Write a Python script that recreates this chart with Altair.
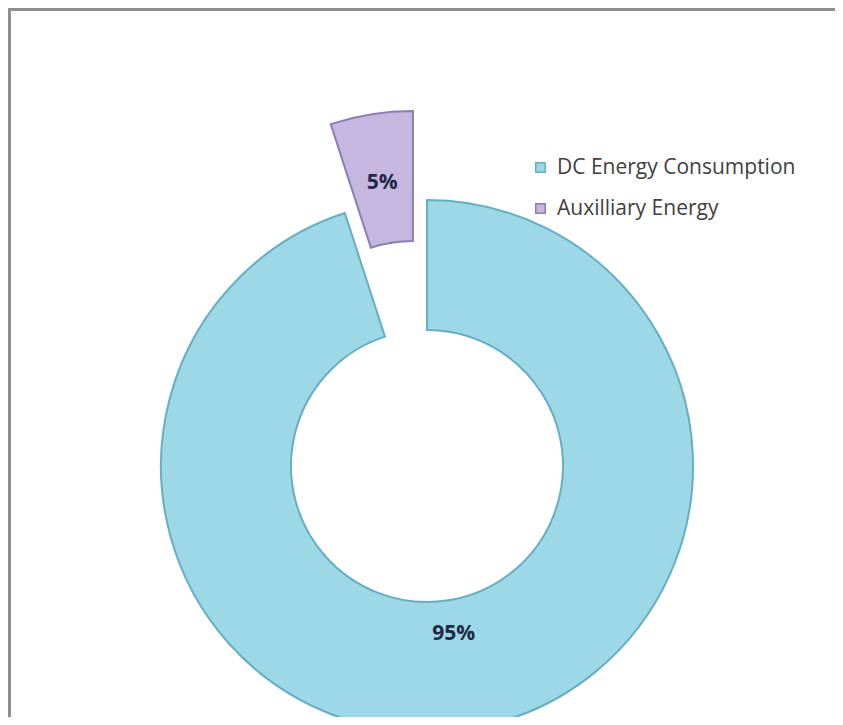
import altair as alt
import pandas as pd

# ---- data ----
categories = ["DC Energy Consumption", "Auxilliary Energy"]
values = [95, 5]
label_texts = ["95%", "5%"]
fill_colors = ["#9DD8E7", "#C5B7DF"]
edge_colors = ["#66AEC1", "#8C7DB5"]

df = pd.DataFrame({"category": categories, "value": values,
                   "label": label_texts, "order": list(range(len(categories)))})

W, H = 827, 709
CX, CY = 419, 458
R_OUT, R_IN = 266, 136
EXPLODE = 90
TWO_PI = 6.283185307179586

theta_scale = alt.Scale(domain=[0, 100], range=[0, TWO_PI])

base = alt.Chart(df).transform_window(
    cum="sum(value)", sort=[alt.SortField("order")], frame=[None, 0]
).transform_joinaggregate(
    total="sum(value)"
).transform_calculate(
    start="(datum.cum - datum.value) / datum.total * 100",
    end="datum.cum / datum.total * 100",
    mid="(datum.cum - datum.value / 2) / datum.total * 100",
    ex=f"datum.category == 'Auxilliary Energy' ? {EXPLODE} : 0",
    lr="datum.category == 'Auxilliary Energy' ? 197 : 170",
).transform_calculate(
    cx=f"{CX} + datum.ex * sin(datum.mid / 100 * 2 * PI)",
    cy=f"{CY} - datum.ex * cos(datum.mid / 100 * 2 * PI)",
)

arcs = base.mark_arc(innerRadius=R_IN, outerRadius=R_OUT, strokeWidth=2).encode(
    theta=alt.Theta("start:Q", scale=theta_scale, stack=None),
    theta2="end:Q",
    x=alt.X("cx:Q", scale=None),
    y=alt.Y("cy:Q", scale=None),
    color=alt.Color("category:N", scale=alt.Scale(domain=categories, range=fill_colors),
                    legend=alt.Legend(title=None)),
    stroke=alt.Stroke("category:N", scale=alt.Scale(domain=categories, range=edge_colors),
                      legend=alt.Legend(title=None)),
)

texts = base.mark_text(font="Open Sans", fontWeight="bold", fontSize=21,
                       color="#1F2A47", align="center", baseline="middle").encode(
    theta=alt.Theta("mid:Q", scale=theta_scale, stack=None),
    radius=alt.Radius("lr:Q", scale=None),
    x=alt.X("cx:Q", scale=None),
    y=alt.Y("cy:Q", scale=None),
    text="label:N",
)

border_df = pd.DataFrame({"k": [0]})
top_rule = alt.Chart(border_df).mark_rule(color="#8E8E8E", strokeWidth=3).encode(
    x=alt.value(0), x2=alt.value(W), y=alt.value(1.5))
left_rule = alt.Chart(border_df).mark_rule(color="#8E8E8E", strokeWidth=3).encode(
    x=alt.value(1.5), y=alt.value(0), y2=alt.value(H))

chart = alt.layer(arcs, texts, top_rule, left_rule).properties(
    width=W, height=H, padding=0, autosize="none"
).configure_view(stroke=None).configure_legend(
    orient="none", legendX=522, legendY=149,
    symbolType="square", symbolSize=90, symbolStrokeWidth=1.5,
    labelFont="Open Sans", labelFontSize=21, labelColor="#404040",
    rowPadding=19, labelOffset=6, labelLimit=400,
)

chart.save("out.html", embed_options={"renderer": "svg", "actions": False})
